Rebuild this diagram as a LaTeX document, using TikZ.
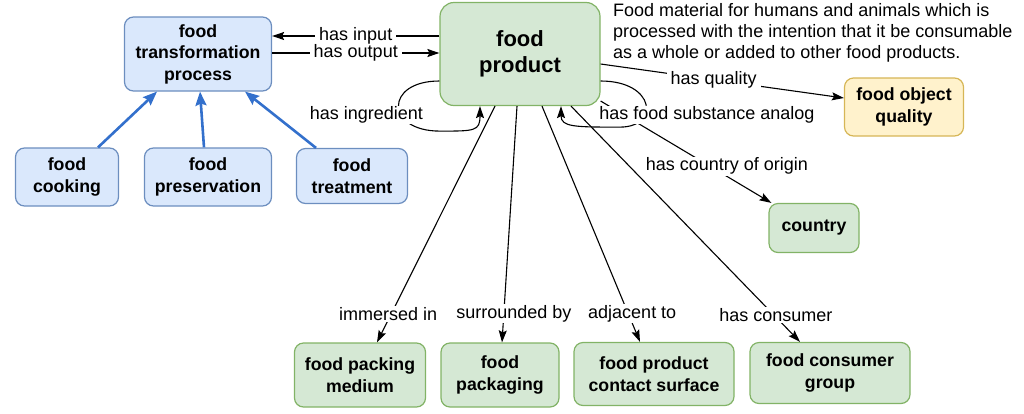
\documentclass[tikz,border=0pt]{standalone}
\usepackage{fontspec}
\setmainfont{Liberation Sans}
\usetikzlibrary{arrows.meta}
\definecolor{procfill}{HTML}{DAE8FC}
\definecolor{procline}{HTML}{6C8EBF}
\definecolor{subarrow}{HTML}{3370CC}
\definecolor{foodfill}{HTML}{D5E8D4}
\definecolor{foodline}{HTML}{82B366}
\definecolor{qualfill}{HTML}{FFF2CC}
\definecolor{qualline}{HTML}{D6B656}

\begin{document}
\begin{tikzpicture}[x=1pt,y=-1pt]
\tikzstyle{every node}=[font=\fontsize{18}{21}\selectfont, align=center]
\tikzstyle{box}=[draw, line width=1.2pt, rounded corners=9pt, inner sep=0pt, font=\bfseries\fontsize{17.7}{21.5}\selectfont]
\tikzstyle{proc}=[box, fill=procfill, draw=procline]
\tikzstyle{food}=[box, fill=foodfill, draw=foodline]
\tikzstyle{qual}=[box, fill=qualfill, draw=qualline]
\tikzstyle{lbl}=[fill=white, inner xsep=4pt, inner ysep=1pt]
\tikzstyle{rel}=[-{Stealth[length=12pt,width=8pt,inset=2pt]}, line width=1.1pt]
\tikzstyle{sub}=[-{Stealth[length=14pt,width=11pt,inset=2pt]}, line width=2.6pt, draw=subarrow, fill=subarrow]
\useasboundingbox (0,0) rectangle (1024,413);
\draw (198,54) node (ftp) [proc, minimum width=147pt, minimum height=74pt] {food\\transformation\\process};
\draw (67,177) node (ck) [proc, minimum width=103pt, minimum height=58pt] {food\\cooking};
\draw (208,177) node (pres) [proc, minimum width=127pt, minimum height=58pt] {food\\preservation};
\draw (352,176) node (trt) [proc, minimum width=111pt, minimum height=55pt] {food\\treatment};
\draw (520,54) node (fp) [food, minimum width=160pt, minimum height=103pt, rounded corners=14pt, font=\bfseries\fontsize{22}{26}\selectfont] {food\\product};
\draw (613,3) node (desc) [anchor=north west, align=left, inner sep=0pt] {Food material for humans and animals which is\\processed with the intention that it be consumable\\as a whole or added to other food products.};
\draw (904,107) node (foq) [qual, minimum width=119pt, minimum height=58pt] {food object\\quality};
\draw (814,228) node (ctry) [food, minimum width=90pt, minimum height=49pt] {country};
\draw (360,375) node (pkm) [food, minimum width=131pt, minimum height=64pt] {food packing\\medium};
\draw (500,375) node (pkg) [food, minimum width=118pt, minimum height=64pt] {food\\packaging};
\draw (654,374) node (cs) [food, minimum width=160pt, minimum height=63pt] {food product\\contact surface};
\draw (830,373) node (cg) [food, minimum width=160pt, minimum height=61pt] {food consumer\\group};
% subclasses
\draw[sub] ([xshift=31pt]ck.north) -- ([xshift=-41pt]ftp.south);
\draw[sub] ([xshift=-4pt]pres.north) -- ([xshift=2pt]ftp.south);
\draw[sub] ([xshift=-36pt]trt.north) -- ([xshift=47pt]ftp.south);
% process input/output
\draw[rel] ([yshift=18pt]fp.west) -- node[lbl] {has input} ([yshift=18pt]ftp.east);
\draw[rel] ([yshift=1pt]ftp.east) -- node[lbl] {has output} ([yshift=1pt]fp.west);
\draw[rel] ([yshift=-10pt]fp.east) -- node[lbl, pos=0.465] {has quality} ([yshift=9pt]foq.west);
\draw[rel] ([yshift=-47pt]fp.east) -- node[lbl, pos=0.64, xshift=17pt] {has country of origin} ([xshift=3pt]ctry.north west);
% self loops
\draw[rel] ([yshift=-27pt]fp.west) .. controls +(-55,0) and +(-55,0) .. node[lbl, xshift=-32pt, yshift=-9pt] {has ingredient} ([xshift=-80pt,yshift=-25pt]fp.south) .. controls +(35,0) and +(0,25) .. ([xshift=-40pt]fp.south);
\draw[rel] ([yshift=-27pt]fp.east) .. controls +(55,0) and +(40,0) .. node[lbl, xshift=61pt, yshift=-11pt] {has food substance analog} ([xshift=100pt,yshift=-21pt]fp.south) .. controls +(-45,0) and +(0,21) .. ([xshift=41pt]fp.south);
% bottom row
\draw[rel] ([xshift=-25pt]fp.south) -- node[lbl, pos=0.88, xshift=-3pt] {immersed in} ([xshift=17pt]pkm.north);
\draw[rel] ([xshift=-3pt]fp.south) -- node[lbl, pos=0.878, xshift=10pt] {surrounded by} ([xshift=2pt]pkg.north);
\draw[rel] ([xshift=22pt]fp.south) -- node[lbl, pos=0.88, xshift=4pt] {adjacent to} ([xshift=-14pt]cs.north);
\draw[rel] ([xshift=51pt]fp.south) -- node[lbl, pos=0.886, xshift=2pt] {has consumer} ([xshift=-30pt]cg.north);
\end{tikzpicture}
\end{document}
